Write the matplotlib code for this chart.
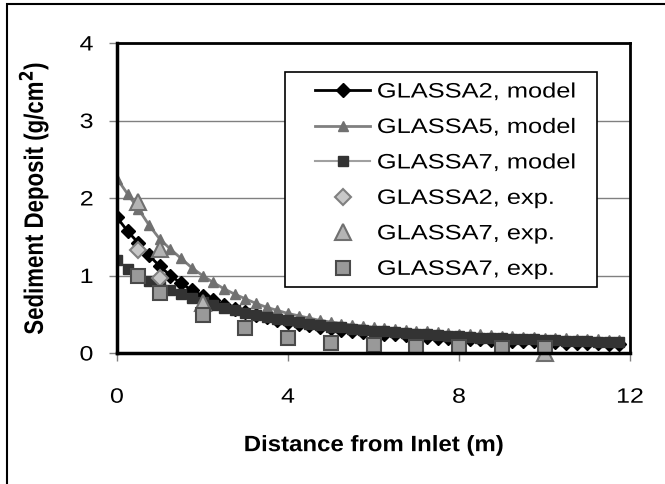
import numpy as np
import matplotlib
matplotlib.use("Agg")
import matplotlib.pyplot as plt
from matplotlib.patches import Rectangle
from matplotlib.patheffects import AbstractPathEffect
from matplotlib.transforms import Affine2D

plt.rcParams['font.family'] = ['Liberation Sans', 'DejaVu Sans']

# model curves, every 0.25 m
x_model = [0.0, 0.25, 0.5, 0.75, 1.0, 1.25, 1.5, 1.75, 2.0, 2.25, 2.5, 2.75,
           3.0, 3.25, 3.5, 3.75, 4.0, 4.25, 4.5, 4.75, 5.0, 5.25, 5.5, 5.75,
           6.0, 6.25, 6.5, 6.75, 7.0, 7.25, 7.5, 7.75, 8.0, 8.25, 8.5, 8.75,
           9.0, 9.25, 9.5, 9.75, 10.0, 10.25, 10.5, 10.75, 11.0, 11.25, 11.5, 11.75]
glassa2_model = [1.75, 1.57, 1.42, 1.26, 1.12, 1.00, 0.90, 0.81, 0.74, 0.68, 0.62, 0.57,
                 0.53, 0.49, 0.46, 0.43, 0.40, 0.38, 0.36, 0.34, 0.32, 0.30, 0.29, 0.27,
                 0.26, 0.25, 0.24, 0.23, 0.22, 0.21, 0.20, 0.195, 0.19, 0.18, 0.175, 0.17,
                 0.165, 0.16, 0.155, 0.15, 0.145, 0.14, 0.135, 0.13, 0.13, 0.125, 0.12, 0.12]
glassa5_model = [2.25, 2.05, 1.86, 1.65, 1.47, 1.34, 1.22, 1.10, 1.00, 0.91, 0.83, 0.76,
                 0.70, 0.64, 0.59, 0.55, 0.51, 0.48, 0.45, 0.42, 0.40, 0.38, 0.36, 0.35,
                 0.33, 0.32, 0.31, 0.30, 0.29, 0.28, 0.27, 0.26, 0.25, 0.245, 0.24, 0.23,
                 0.225, 0.22, 0.21, 0.205, 0.20, 0.195, 0.19, 0.185, 0.18, 0.175, 0.17, 0.165]
glassa7_model = [1.20, 1.09, 1.00, 0.93, 0.87, 0.81, 0.76, 0.71, 0.66, 0.62, 0.58, 0.55,
                 0.52, 0.49, 0.46, 0.44, 0.42, 0.40, 0.38, 0.36, 0.34, 0.33, 0.31, 0.30,
                 0.29, 0.28, 0.27, 0.26, 0.25, 0.24, 0.23, 0.22, 0.215, 0.21, 0.20, 0.195,
                 0.19, 0.185, 0.18, 0.175, 0.17, 0.165, 0.16, 0.155, 0.15, 0.148, 0.145, 0.14]

# experiments
x_exp2 = [0.5, 1.0]
glassa2_exp = [1.33, 0.97]
x_exp7a = [0.5, 1.0, 2.0, 10.0]
glassa7_exp_a = [1.95, 1.34, 0.65, 0.0]
x_exp7b = [0.5, 1, 2, 3, 4, 5, 6, 7, 8, 9, 10]
glassa7_exp_b = [1.0, 0.77, 0.49, 0.32, 0.20, 0.13, 0.10, 0.08, 0.08, 0.07, 0.06]


class Stretch(AbstractPathEffect):
    # the reference picture is stretched sideways, so widen the glyphs
    def __init__(self, sx=1.25, anchor='center'):
        super().__init__()
        self.sx = sx
        self.anchor = anchor

    def draw_path(self, renderer, gc, tpath, affine, rgbFace=None):
        bb = tpath.get_extents(affine)
        if self.anchor == 'left':
            cx = bb.x0
        elif self.anchor == 'right':
            cx = bb.x1
        else:
            cx = (bb.x0 + bb.x1) / 2
        t = affine + Affine2D().translate(-cx, 0).scale(self.sx, 1).translate(cx, 0)
        renderer.draw_path(gc, tpath, t, rgbFace)


W, H = 665, 484
fig = plt.figure(figsize=(W / 100, H / 100), dpi=100)
ax = fig.add_axes([117 / W, 1 - 353 / H, (630 - 117) / W, (353 - 43) / H])

ax.plot(x_model, glassa2_model, color='black', lw=2, marker='D', ms=7,
        mfc='black', mec='black', label='GLASSA2, model')
ax.plot(x_model, glassa5_model, color='#808080', lw=2, marker='^', ms=7,
        mfc='#707070', mec='#707070', label='GLASSA5, model')
ax.plot(x_model, glassa7_model, color='#a0a0a0', lw=1.5, marker='s', ms=6.5,
        mfc='#333333', mec='#333333', label='GLASSA7, model')
ax.plot(x_exp2, glassa2_exp, ls='none', marker='D', ms=8, mfc='#c8c8c8',
        mec='#808080', mew=1.5, label='GLASSA2, exp.')
ax.plot(x_exp7a, glassa7_exp_a, ls='none', marker='^', ms=11, mfc='#b4b4b4',
        mec='#707070', mew=1.5, label='GLASSA7, exp.', clip_on=False)
ax.plot(x_exp7b, glassa7_exp_b, ls='none', marker='s', ms=10, mfc='#999999',
        mec='#4a4a4a', mew=1.5, label='GLASSA7, exp.')

ax.set_xlim(0, 12)
ax.set_ylim(0, 4)
ax.set_xticks([0, 4, 8, 12])
ax.set_yticks([0, 1, 2, 3, 4])
ax.grid(axis='y', color='#808080', lw=1)
ax.set_axisbelow(True)
for s in ['left', 'bottom']:
    ax.spines[s].set_linewidth(2.5)
for s in ['top', 'right']:
    ax.spines[s].set_linewidth(2)
ax.tick_params(axis='x', length=6, width=1, color='#808080', pad=19, labelsize=15)
ax.tick_params(axis='y', length=6, width=1, color='#808080', pad=11, labelsize=15)
for t in ax.get_xticklabels():
    t.set_path_effects([Stretch(1.2, 'center')])
for t in ax.get_yticklabels():
    t.set_path_effects([Stretch(1.2, 'right')])

ax.set_xlabel('Distance from Inlet (m)', fontsize=16, fontweight='bold',
              path_effects=[Stretch(1.08, 'center')])
ax.xaxis.set_label_coords(0.5, -0.265)
ax.set_ylabel('Sediment Deposit (g/cm$^\\mathbf{2}$)', fontsize=16, fontweight='bold',
              path_effects=[Stretch(1.2, 'center')])
ax.yaxis.set_label_coords(-0.132, 0.5)

# legend box drawn by hand so it fits the widened text
ax.add_patch(Rectangle((285 / W, 1 - 287 / H), (597 - 285) / W, (287 - 72) / H,
                       transform=fig.transFigure, fc='white', ec='black', lw=1.2,
                       zorder=4, clip_on=False))
leg = ax.legend(loc='upper left', bbox_to_anchor=(315 / W, 1 - 82.5 / H),
                bbox_transform=fig.transFigure, fontsize=15, frameon=False,
                handlelength=2.64, handletextpad=0.34, labelspacing=0.79,
                borderpad=0, borderaxespad=0)
for t in leg.get_texts():
    t.set_path_effects([Stretch(1.22, 'left')])

fig.patches.append(Rectangle((7 / W, -0.1), 2, 1.1 - 4 / H, transform=fig.transFigure,
                             fill=False, lw=1.5, ec='black'))

fig.savefig('out.png', dpi=100)
